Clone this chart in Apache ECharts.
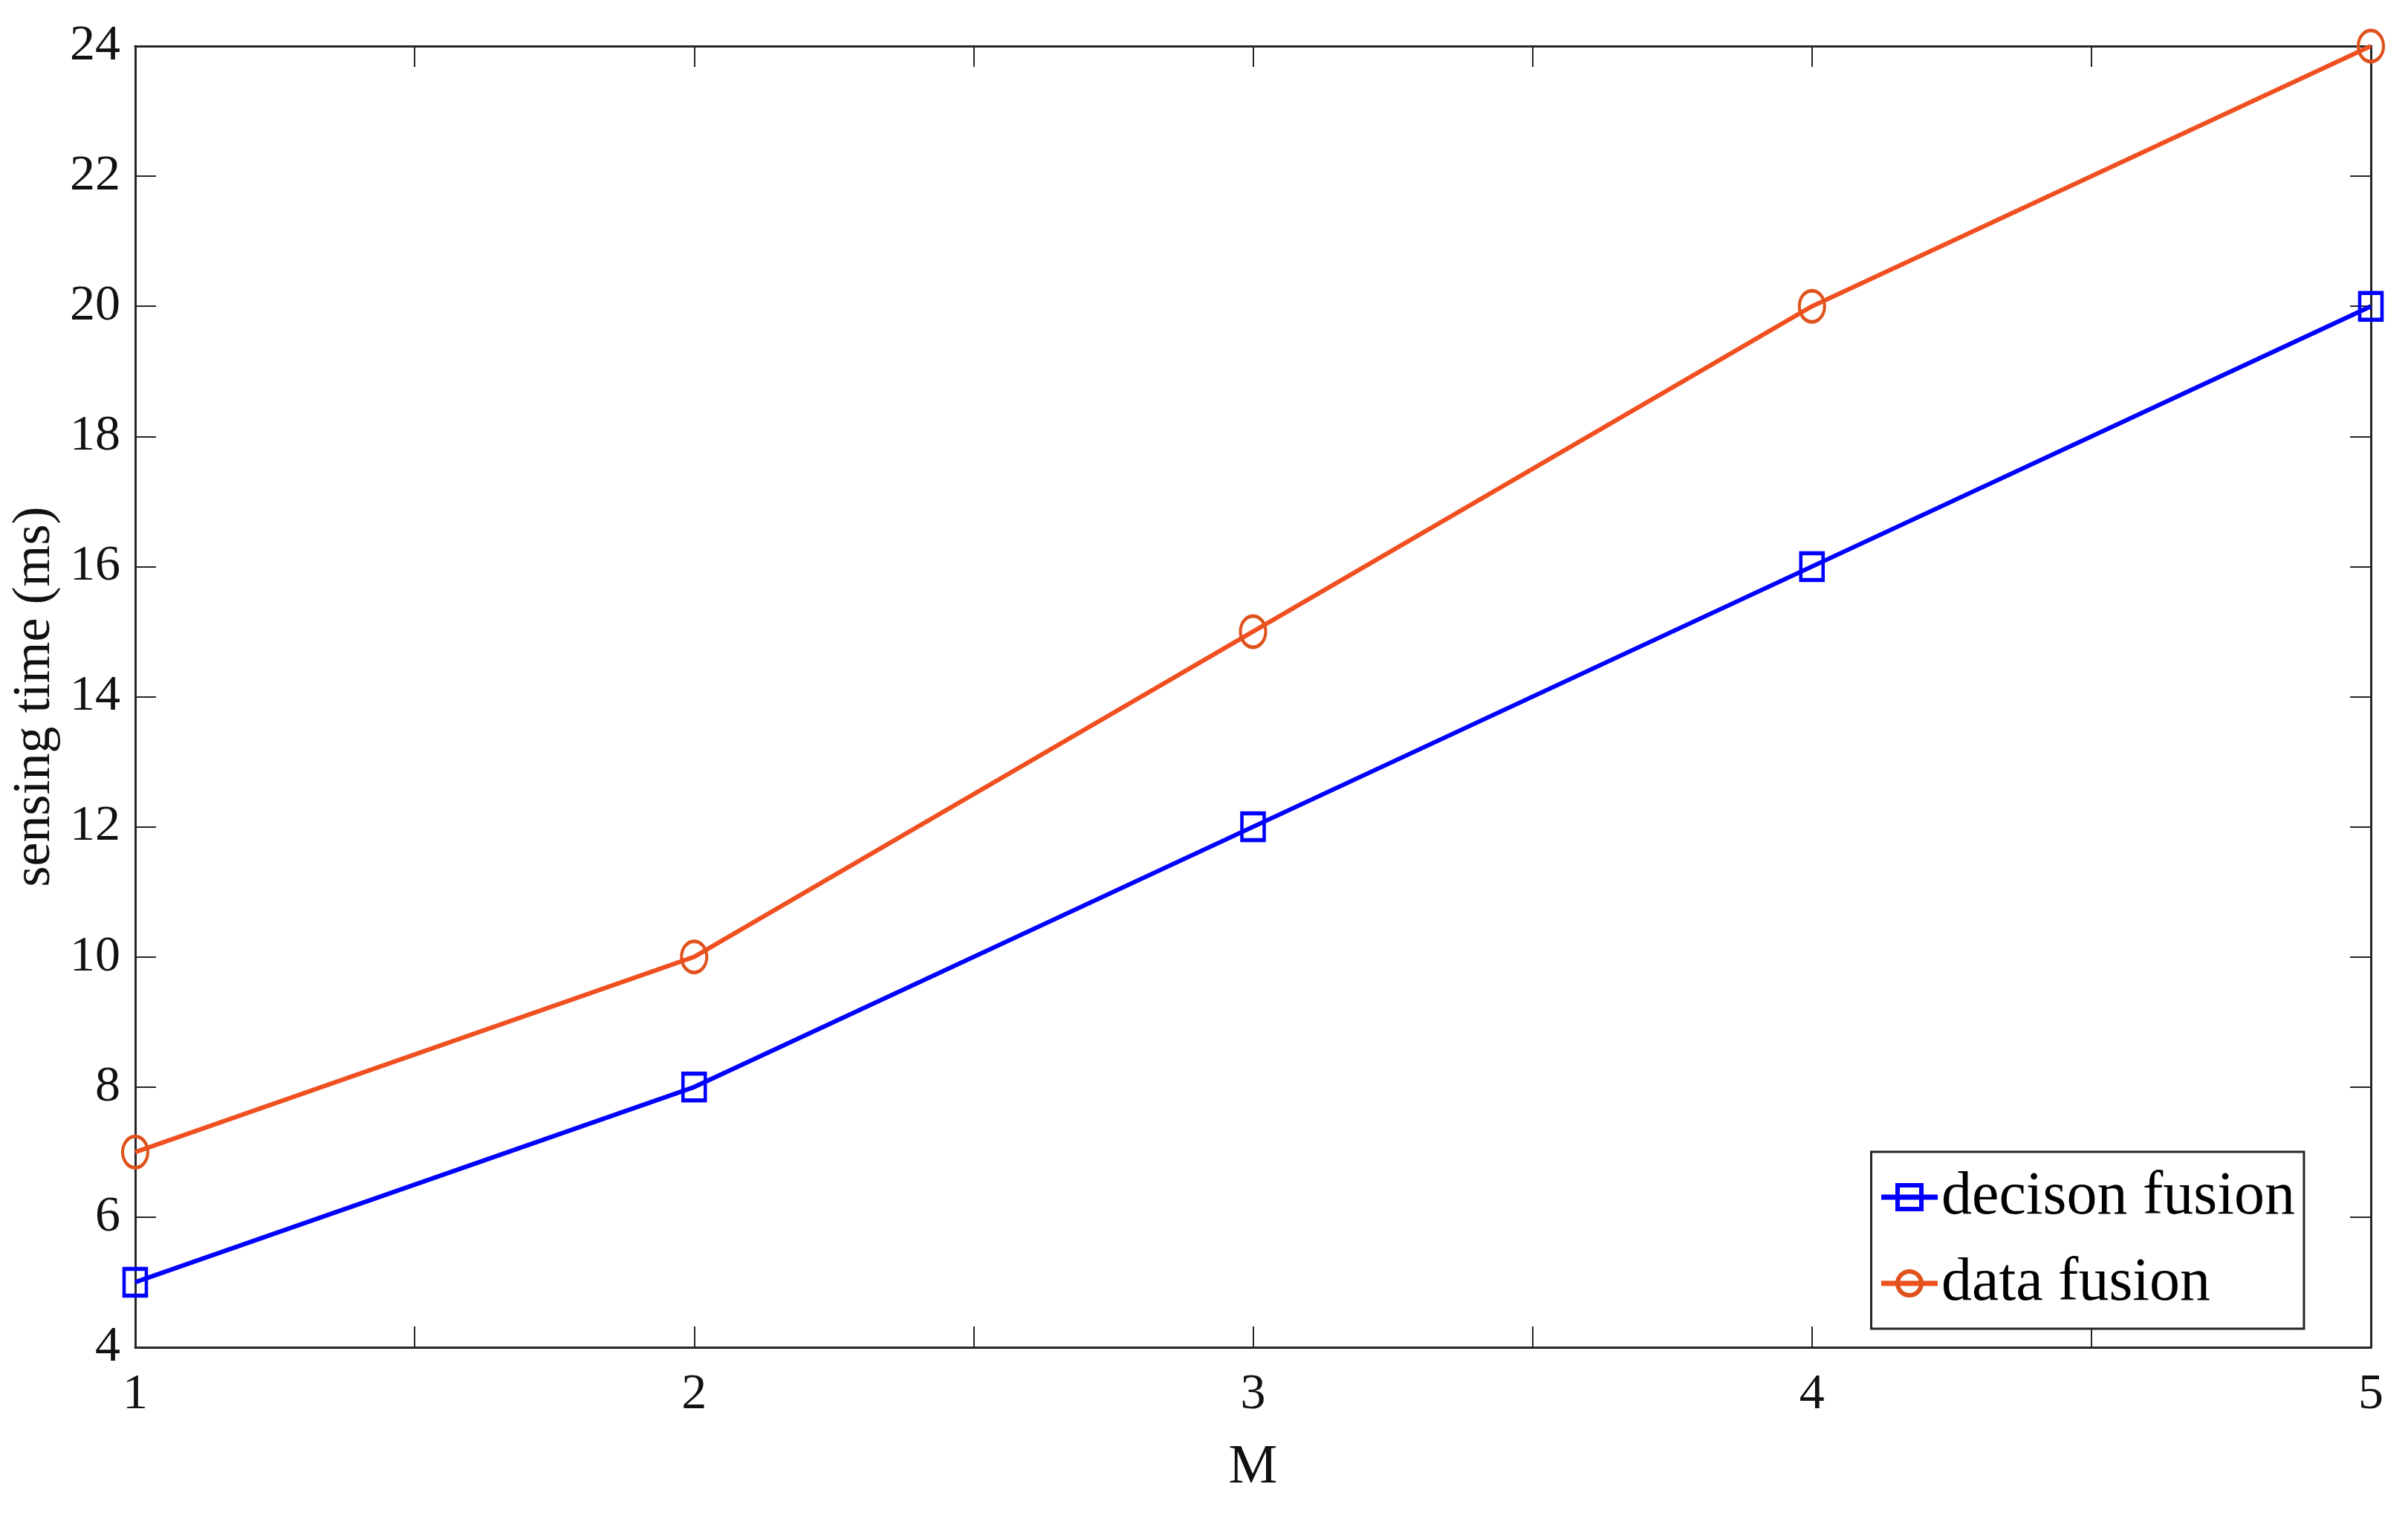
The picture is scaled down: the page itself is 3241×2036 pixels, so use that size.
<!DOCTYPE html>
<html>
<head>
<meta charset="utf-8">
<script src="https://cdn.jsdelivr.net/npm/echarts@6/dist/echarts.min.js"></script>
<style>
html,body{margin:0;padding:0;background:#fff;}
#chart{width:3241px;height:2036px;}
</style>
</head>
<body>
<div id="chart"></div>
<script>
const xValues = [1, 2, 3, 4, 5];
const decisionFusion = [5, 8, 12, 16, 20];
const dataFusion = [7, 10, 15, 20, 24];
const seriesNames = ['decison fusion', 'data fusion'];
const xAxisName = 'M';
const yAxisName = 'sensing time (ms)';

const FONT = '"Liberation Serif", "Times New Roman", serif';
const axisLineStyle = {color: '#262626', width: 3};
const blue = '#0000FF';
const orange = '#F05020';
const orangeMarker = '#E0521C';

function pairs(xs, ys){ return xs.map((x, i) => [x, ys[i]]); }

const chart = echarts.init(document.getElementById('chart'), null, {renderer: 'canvas'});

const xCommon = {
  type: 'value', min: 1, max: 5, interval: 0.5,
  axisLine: {show: true, onZero: false, lineStyle: axisLineStyle},
  axisTick: {show: true, inside: true, length: 28, lineStyle: {color: '#262626', width: 2}},
  splitLine: {show: false}
};
const yCommon = {
  type: 'value', min: 4, max: 24, interval: 2,
  axisLine: {show: true, onZero: false, lineStyle: axisLineStyle},
  axisTick: {show: true, inside: true, length: 28, lineStyle: {color: '#262626', width: 2}},
  splitLine: {show: false}
};

chart.setOption({
  backgroundColor: '#fff',
  animation: false,
  grid: {left: 182, right: 50, top: 62, bottom: 223, containLabel: false},
  xAxis: [
    Object.assign({}, xCommon, {
      position: 'bottom',
      name: xAxisName, nameLocation: 'middle', nameGap: 126,
      nameTextStyle: {fontFamily: FONT, fontSize: 74, color: '#111'},
      axisLabel: {
        show: true, margin: 30, fontFamily: FONT, fontSize: 68, color: '#111',
        formatter: v => (Number.isInteger(v) ? String(v) : '')
      }
    }),
    Object.assign({}, xCommon, {position: 'top', axisLabel: {show: false}})
  ],
  yAxis: [
    Object.assign({}, yCommon, {
      position: 'left',
      name: yAxisName, nameLocation: 'middle', nameGap: 78, nameRotate: 90,
      nameTextStyle: {fontFamily: FONT, fontSize: 72, color: '#111'},
      axisLabel: {show: true, margin: 20, fontFamily: FONT, fontSize: 68, color: '#111'}
    }),
    Object.assign({}, yCommon, {position: 'right', axisLabel: {show: false}})
  ],
  legend: {
    right: 140, top: 1550,
    orient: 'vertical',
    backgroundColor: '#fff',
    borderColor: '#262626', borderWidth: 3, borderRadius: 0,
    padding: [20, 12, 20, 10],
    itemGap: 34, itemWidth: 76, itemHeight: 40,
    textStyle: {fontFamily: FONT, fontSize: 82, color: '#000', padding: [0, 0, 0, 0]},
    data: [
      {name: seriesNames[0], itemStyle: {color: 'rgba(0,0,0,0)', borderColor: blue, borderWidth: 6}, lineStyle: {color: blue, width: 7}},
      {name: seriesNames[1], itemStyle: {color: 'rgba(0,0,0,0)', borderColor: orangeMarker, borderWidth: 6}, lineStyle: {color: orange, width: 7}}
    ]
  },
  series: [
    {
      name: seriesNames[0], type: 'line',
      data: pairs(xValues, decisionFusion),
      symbol: 'rect', symbolSize: [30, 36],
      lineStyle: {color: blue, width: 6},
      itemStyle: {color: 'rgba(0,0,0,0)', borderColor: blue, borderWidth: 5},
      z: 3
    },
    {
      name: seriesNames[1], type: 'line',
      data: pairs(xValues, dataFusion),
      symbol: 'circle', symbolSize: [34, 42],
      lineStyle: {color: orange, width: 6},
      itemStyle: {color: 'rgba(0,0,0,0)', borderColor: orangeMarker, borderWidth: 4.5},
      z: 3
    }
  ]
});
</script>
</body>
</html>
